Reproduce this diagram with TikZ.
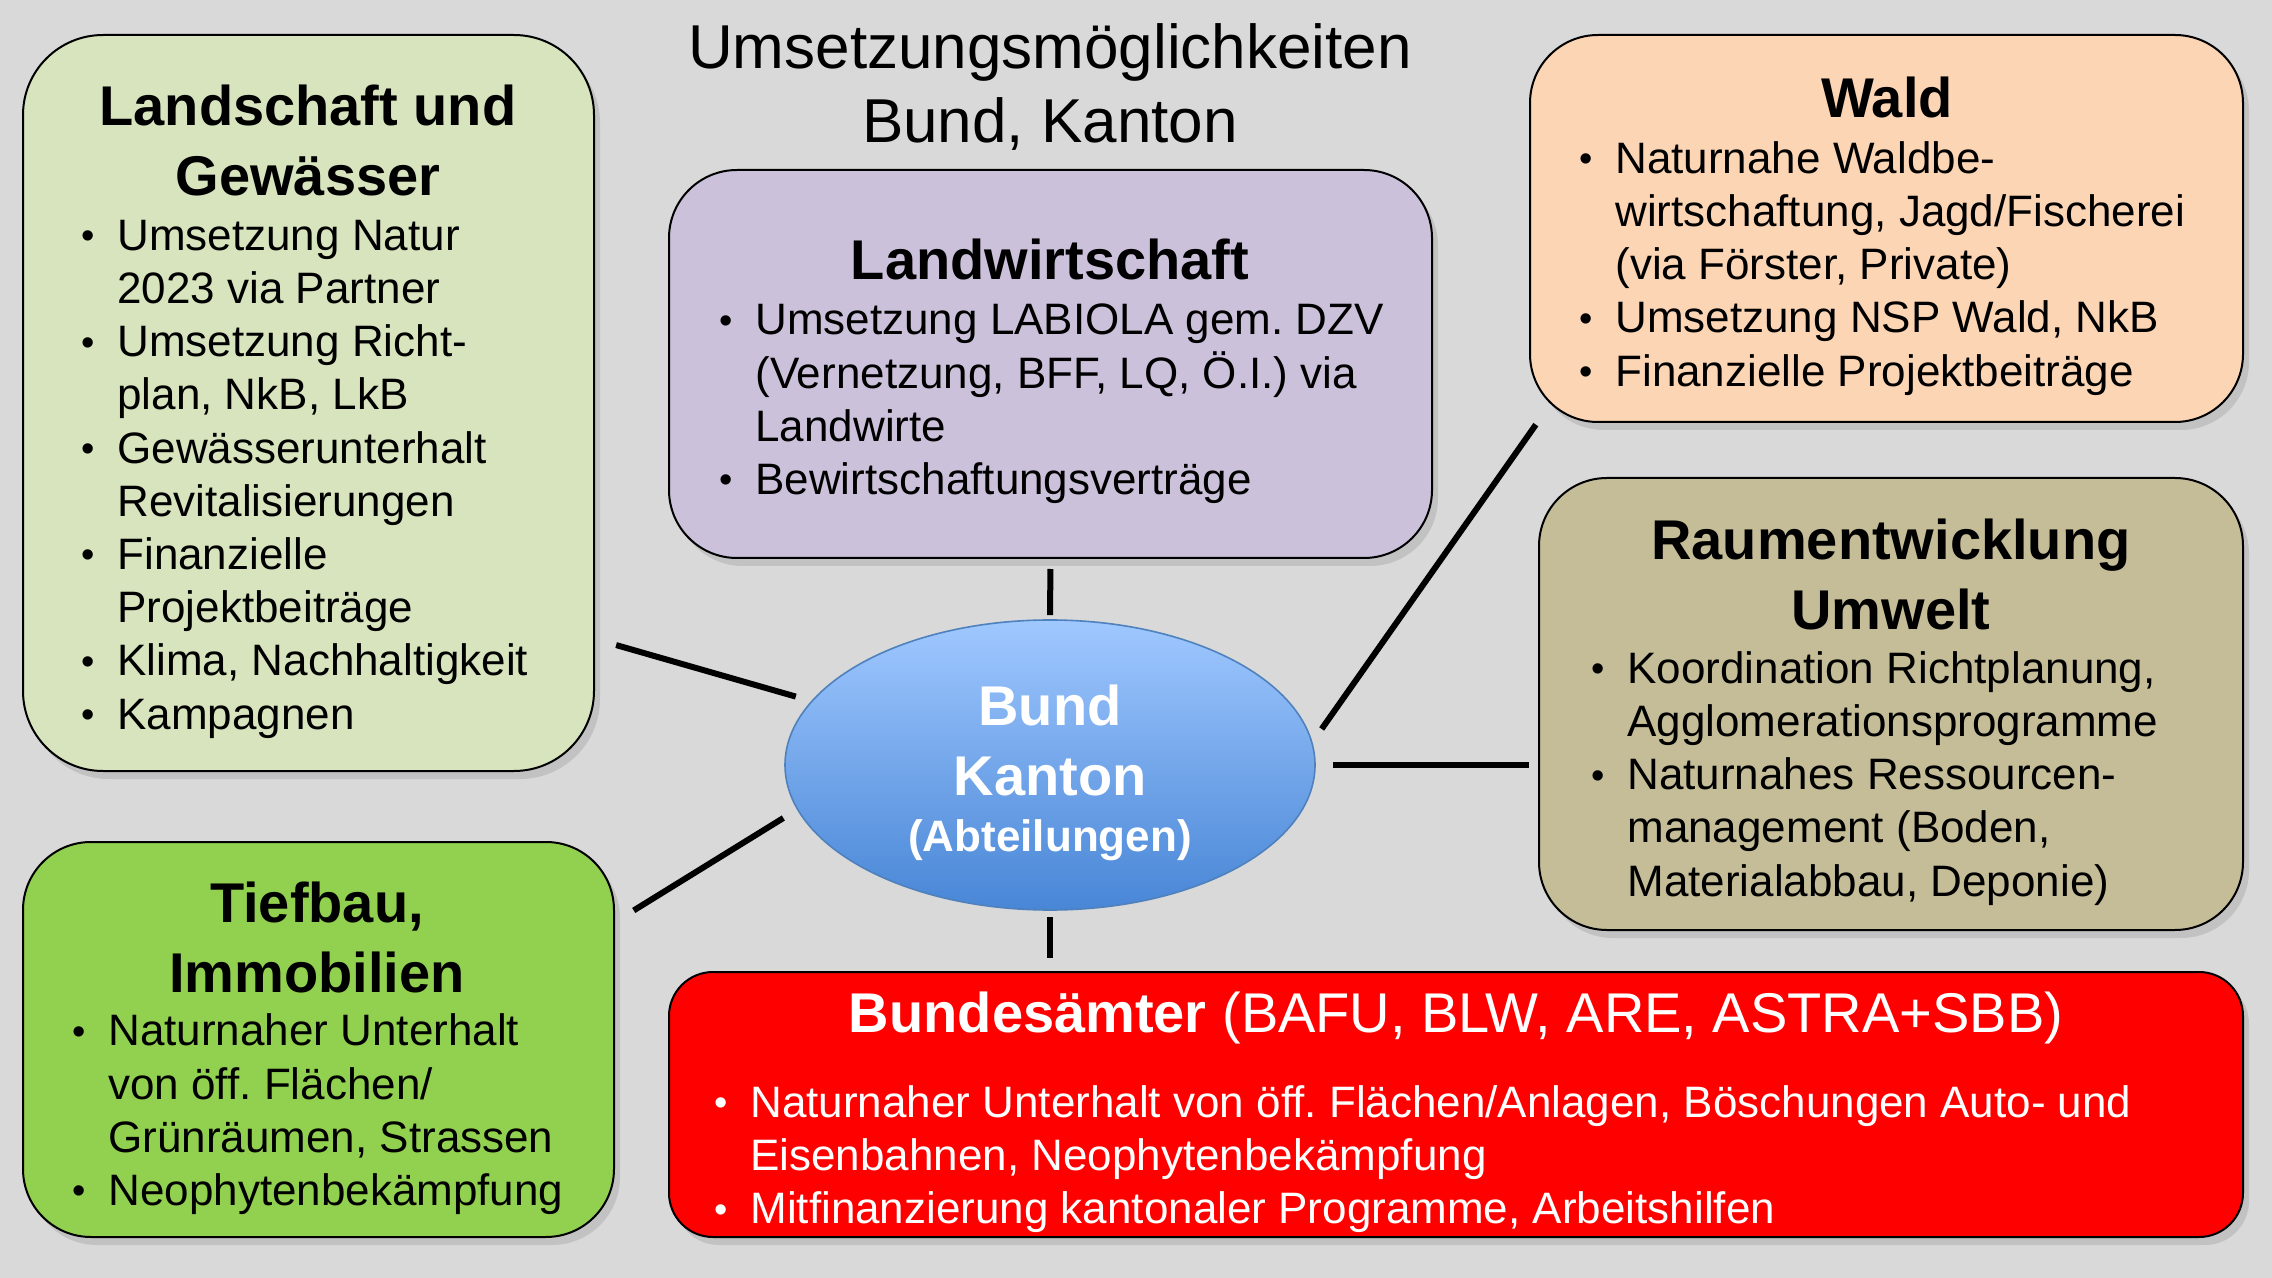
\documentclass[tikz,border=0pt]{standalone}
\usepackage{fontspec}
\setmainfont{Liberation Sans}
\usetikzlibrary{shapes.geometric, shadows}

\definecolor{bgGray}{RGB}{217,217,217}
\definecolor{landGreen}{RGB}{215,228,189}
\definecolor{lwLilac}{RGB}{204,193,218}
\definecolor{waldPeach}{RGB}{252,213,181}
\definecolor{raumTan}{RGB}{196,189,151}
\definecolor{tiefGreen}{RGB}{146,208,80}
\definecolor{amtRed}{RGB}{255,0,0}
\definecolor{ellTop}{RGB}{160,200,255}
\definecolor{ellBot}{RGB}{72,134,214}
\definecolor{ellLine}{RGB}{79,129,189}

\frenchspacing
\newcommand{\hd}{\fontsize{28}{35}\selectfont\bfseries}
\newcommand{\tx}{\fontsize{22}{26.6}\selectfont}
\newcommand{\bu}{\raisebox{0.8pt}{\fontsize{19}{19}\selectfont\textbullet}}
\newcommand{\lst}[1]{\tx\begin{tabular}{@{}p{18pt}@{}l@{}}#1\end{tabular}}

\begin{document}
\begin{tikzpicture}[
    x=0.5pt, y=-0.5pt,
    box/.style={draw=black, line width=1pt, rounded corners=34pt, inner sep=0pt,
      drop shadow={shadow xshift=3pt, shadow yshift=-4pt, opacity=0.25}},
    head/.style={align=center, font=\hd, inner sep=0pt},
    items/.style={anchor=west, inner sep=0pt},
    link/.style={line width=3pt, black},
  ]

  \path[use as bounding box, fill=bgGray] (0,0) rectangle (2272,1278);

  \node[align=center, inner sep=0pt, font=\fontsize{31}{37}\selectfont] (title) at (1050,87)
    {Umsetzungsmöglichkeiten\\Bund, Kanton};

  % Boxen
  \node[box, fill=landGreen, rounded corners=40pt, minimum width=285.5pt, minimum height=368pt] (b_land) at (308.5,403) {};
  \node[box, fill=lwLilac, minimum width=381.5pt, minimum height=194pt] (b_lw) at (1050.5,364) {};
  \node[box, fill=waldPeach, minimum width=356.5pt, minimum height=193.5pt] (b_wald) at (1886.5,228.5) {};
  \node[box, fill=raumTan, minimum width=352pt, minimum height=226pt] (b_raum) at (1891,704) {};
  \node[box, fill=tiefGreen, minimum width=295.5pt, minimum height=197.5pt] (b_tief) at (318.5,1039.5) {};
  \node[box, fill=amtRed, rounded corners=22pt, minimum width=787pt, minimum height=132.5pt] (b_amt) at (1456,1104.5) {};

  % Titel der Boxen
  \node[head] (h_land) at (308,140.5) {Landschaft und\\Gewässer};
  \node[head] (h_lw) at (1050,259) {Landwirtschaft};
  \node[head] (h_wald) at (1887,97) {Wald};
  \node[head] (h_raum) at (1891,574.5) {Raumentwicklung\\Umwelt};
  \node[head] (h_tief) at (317,937) {Tiefbau,\\Immobilien};
  \node[head, text=white] (h_amt) at (1456,1018)
    {Bundesämter \mdseries(BAFU, BLW, ARE, ASTRA+SBB)};

  % Aufzaehlungen
  \node[items] (l_land) at (81,479) {\lst{
    \bu & Umsetzung Natur\\
        & 2023 via Partner\\
    \bu & Umsetzung Richt-\\
        & plan, NkB, LkB\\
    \bu & Gewässerunterhalt\\
        & Revitalisierungen\\
    \bu & Finanzielle\\
        & Projektbeiträge\\
    \bu & Klima, Nachhaltigkeit\\
    \bu & Kampagnen}};
  \node[items] (l_lw) at (719,404) {\lst{
    \bu & Umsetzung LABIOLA gem. DZV\\
        & (Vernetzung, BFF, LQ, Ö.I.) via\\
        & Landwirte\\
    \bu & Bewirtschaftungsverträge}};
  \node[items] (l_wald) at (1579,269) {\lst{
    \bu & Naturnahe Waldbe-\\
        & wirtschaftung, Jagd/Fischerei\\
        & (via Förster, Private)\\
    \bu & Umsetzung NSP Wald, NkB\\
    \bu & Finanzielle Projektbeiträge}};
  \node[items] (l_raum) at (1591,779) {\lst{
    \bu & Koordination Richtplanung,\\
        & Agglomerationsprogramme\\
    \bu & Naturnahes Ressourcen-\\
        & management (Boden,\\
        & Materialabbau, Deponie)}};
  \node[items] (l_tief) at (72,1115) {\lst{
    \bu & Naturnaher Unterhalt\\
        & von öff. Flächen/\\
        & Grünräumen, Strassen\\
    \bu & Neophytenbekämpfung}};
  \node[items, text=white] (l_amt) at (714,1160) {\lst{
    \bu & Naturnaher Unterhalt von öff. Flächen/Anlagen, Böschungen Auto- und\\
        & Eisenbahnen, Neophytenbekämpfung\\
    \bu & Mitfinanzierung kantonaler Programme, Arbeitshilfen}};

  % Zentrum
  \node[ellipse, draw=ellLine, line width=0.8pt, top color=ellTop, bottom color=ellBot,
        minimum width=265pt, minimum height=145pt, inner sep=0pt] (bk) at (1050,765) {};
  \node[align=center, inner sep=0pt, text=white, font=\hd] (bk_t) at (1050,773)
    {Bund\\Kanton\\[-7pt]{\fontsize{22}{26}\selectfont(Abteilungen)}};

  % Verbindungen
  \draw[link, shorten <=11pt, shorten >=8pt] ([yshift=-118pt]b_land.east) -- (bk.165);
  \draw[link, shorten <=5pt, shorten >=2pt] (b_lw.south) -- (bk.north);
  \draw[link, shorten <=1pt, shorten >=8pt] ([xshift=4pt]b_wald.south west) -- (bk.5);
  \draw[link, shorten <=8.5pt, shorten >=4.5pt] (bk.east) -- (bk.east -| b_raum.west);
  \draw[link, shorten <=11pt, shorten >=8pt] ([yshift=58.75pt]b_tief.east) -- (bk.190);
  \draw[link, shorten <=3pt, shorten >=6.5pt] (bk.south) -- (bk.south |- b_amt.north);

\end{tikzpicture}
\end{document}
